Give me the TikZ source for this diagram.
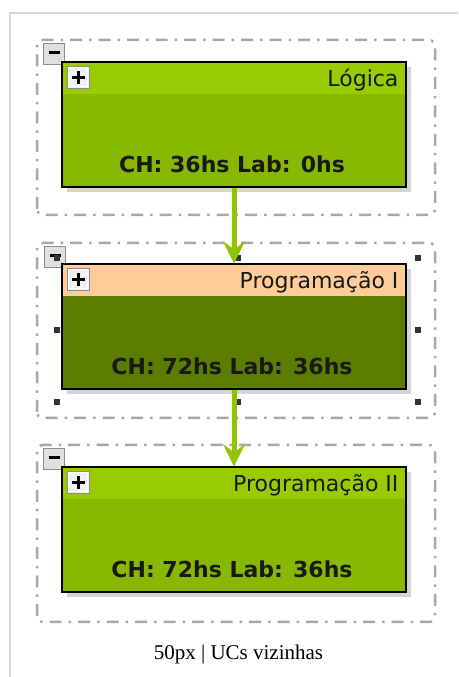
\documentclass[tikz,border=0pt]{standalone}
\usepackage{fontspec}
\setmainfont{Liberation Serif}
\newfontfamily\ucfont{DejaVu Sans}
\usetikzlibrary{arrows.meta,shadows,positioning}

\definecolor{headgreen}{HTML}{99CC00}
\definecolor{bodygreen}{HTML}{88B800}
\definecolor{darkbody}{HTML}{5B7D00}
\definecolor{peach}{HTML}{FFCC99}
\definecolor{arrowgreen}{HTML}{8FC400}
\definecolor{shadowgray}{HTML}{D4D4D4}
\definecolor{groupgray}{HTML}{A8A8A8}
\definecolor{framegray}{HTML}{D8D8D8}

\tikzset{
	ucgroup/.style={draw=groupgray, line width=2.5pt, rounded corners=6pt, dash pattern=on 12pt off 7pt on 2.5pt off 7pt},
	ucbox/.style 2 args={draw=black, line width=1.3pt, minimum width=344pt, minimum height=125pt, inner sep=0pt, fill=#2,
		drop shadow={shadow xshift=5pt, shadow yshift=-5pt, fill=shadowgray, opacity=1},
		path picture={\fill[#1] (path picture bounding box.north west) rectangle ([yshift=-32pt]path picture bounding box.north east);}},
	uctitle/.style={font=\ucfont\fontsize{22}{26}\selectfont, inner sep=0pt, anchor=base east, text=black!90},
	uchours/.style={font=\ucfont\bfseries\fontsize{22}{26}\selectfont, inner sep=0pt, anchor=base, text=black!90},
	minusbtn/.style={draw=black!45, fill=black!12, line width=1pt, minimum size=21pt, inner sep=0pt,
		path picture={\draw[black, line width=3pt] ([shift={(-5.5,1)}]path picture bounding box.center) -- ([shift={(5.5,1)}]path picture bounding box.center);}},
	plusbtn/.style={draw=black!45, fill=black!6, line width=1pt, minimum size=22pt, inner sep=0pt,
		path picture={\draw[white, line width=1pt] ([shift={(1.5,1.5)}]path picture bounding box.south west) rectangle ([shift={(-1.5,-1.5)}]path picture bounding box.north east);
			\draw[black, line width=2.6pt] ([xshift=-6.5pt]path picture bounding box.center) -- ([xshift=6.5pt]path picture bounding box.center)
			([yshift=-6.5pt]path picture bounding box.center) -- ([yshift=6.5pt]path picture bounding box.center);}},
	handle/.style={fill=black!80, minimum size=6pt, inner sep=0pt},
	prereq/.style={draw=arrowgreen, line width=5pt, -{Stealth[length=22pt,width=22pt,inset=8pt]}},
}

\begin{document}
\begin{tikzpicture}[x=1pt, y=1pt]
	\useasboundingbox (0,0) rectangle (458,677);
	\draw[framegray, line width=1.5pt] (10,0) -- (10,664) -- (458,664);

	% groups
	\draw[ucgroup] (37,462) rectangle (435,637);
	\draw[ucgroup] (37,259) rectangle (435,434);
	\draw[ucgroup] (37,55) rectangle (435,232);

	% collapse buttons
	\node[minusbtn] (logica-min) at (54,623) {};
	\node[minusbtn] (prog1-min) at (55,420) {};
	\node[minusbtn] (prog2-min) at (54,218) {};

	% UCs
	\node[ucbox={headgreen}{bodygreen}] (logica) at (234,552.5) {};
	\node[ucbox={peach}{darkbody}] (prog1) at (234,350.5) {};
	\node[ucbox={headgreen}{bodygreen}] (prog2) at (234,147.5) {};

	\foreach \uc/\title/\hours in {logica/Lógica/CH: 36hs Lab: 0hs, prog1/Programação I/CH: 72hs Lab: 36hs, prog2/Programação II/CH: 72hs Lab: 36hs} {
		\node[plusbtn] (\uc-plus) at ([shift={(17,-16)}]\uc.north west) {};
		\node[uctitle] (\uc-title) at ([shift={(-8,-25)}]\uc.north east) {\title};
		\node[uchours] (\uc-ch) at ([shift={(-2,15)}]\uc.south) {\hours};
	}

	% selection handles
	\foreach \hx/\hy [count=\i] in {57/419, 238/419, 418/419, 57/347, 418/347, 57/275, 238/275, 418/275}
		\node[handle] (hd\i) at (\hx,\hy) {};

	% prerequisites
	\draw[prereq] (logica) -- (prog1);
	\draw[prereq] (prog1) -- (prog2);

	\node[font=\fontsize{21}{24}\selectfont, anchor=base] (caption) at (238.5,17) {50px | UCs vizinhas};
\end{tikzpicture}
\end{document}
